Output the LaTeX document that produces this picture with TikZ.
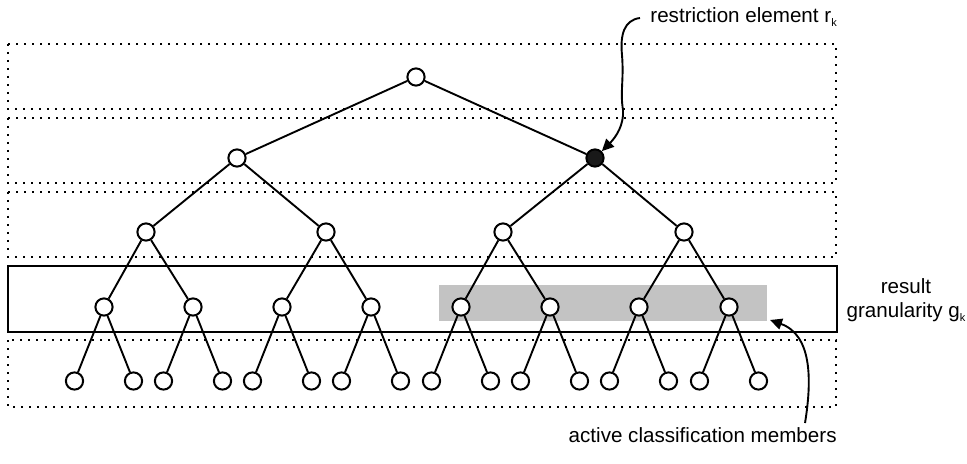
\documentclass[tikz,border=0pt]{standalone}
\usepackage{fontspec}
\setmainfont{Liberation Sans}
\usetikzlibrary{arrows.meta}
\definecolor{activegray}{RGB}{195,195,195}
\newcommand{\subk}{\raisebox{-0.35ex}{\fontsize{5.5}{6}\selectfont k}}
\tikzset{
  member/.style={circle,draw,line width=1pt,fill=white,minimum size=8.6pt,inner sep=0pt},
  chosen/.style={member,fill=black!90},
  levelrow/.style={line width=1pt,dash pattern=on 1pt off 3pt},
  edge/.style={line width=0.95pt},
  pointer/.style={line width=0.95pt,-{Triangle[length=6pt,width=5.5pt]}},
  caption/.style={font=\fontsize{10.3}{12}\selectfont,inner sep=0pt}
}
\begin{document}
\begin{tikzpicture}[x=0.5pt,y=-0.5pt]
\useasboundingbox (0,0) rectangle (967,464);

% level bands
\draw[levelrow] (8,44) rectangle (836,109);
\draw[levelrow] (8,118) rectangle (836,183);
\draw[levelrow] (8,192) rectangle (836,257);
\draw[line width=1pt] (8,266) rectangle (837,332);
\draw[levelrow] (8,340) rectangle (836,407);

% active members
\fill[activegray] (439,285) rectangle (767,321);

% tree nodes
\node[member] (r) at (416,77) {};
\node[member] (a) at (237,158) {};
\node[chosen] (b) at (595,158) {};
\node[member] (a1) at (146,232) {};
\node[member] (a2) at (326,232) {};
\node[member] (b1) at (503,232) {};
\node[member] (b2) at (684,232) {};
\foreach \n/\x in {1/104,2/193,3/282,4/371,5/461,6/550,7/639,8/729}{
  \node[member] (m\n) at (\x,307) {};
  \node[member] (l\n a) at (\x-29.5,381) {};
  \node[member] (l\n b) at (\x+29.5,381) {};
}

% edges
\draw[edge] (r) -- (a);
\draw[edge] (r) -- (b);
\draw[edge] (a) -- (a1);
\draw[edge] (a) -- (a2);
\draw[edge] (b) -- (b1);
\draw[edge] (b) -- (b2);
\draw[edge] (a1) -- (m1);
\draw[edge] (a1) -- (m2);
\draw[edge] (a2) -- (m3);
\draw[edge] (a2) -- (m4);
\draw[edge] (b1) -- (m5);
\draw[edge] (b1) -- (m6);
\draw[edge] (b2) -- (m7);
\draw[edge] (b2) -- (m8);
\foreach \n in {1,...,8}{
  \draw[edge] (m\n) -- (l\n a);
  \draw[edge] (m\n) -- (l\n b);
}

% labels
\node[caption,anchor=base west] (rk) at (650,23) {restriction element r\subk};
\node[caption,align=center] (gk) at (906,300) {result\\granularity g\subk};
\node[caption,anchor=base east] (act) at (837,442) {active classification members};

% pointers
\coordinate (rs) at (640,18);
\coordinate (as) at (805,423);
\coordinate (at) at (770,320);
\draw[pointer] (rs) .. controls (624,20) and (620,35) .. (622,55)
  .. controls (624,80) and (620,92) .. (623,110)
  .. controls (624,125) and (616,137) .. (b.north east);
\draw[pointer] (as) .. controls (812,380) and (812,335) .. (at);
\end{tikzpicture}
\end{document}
